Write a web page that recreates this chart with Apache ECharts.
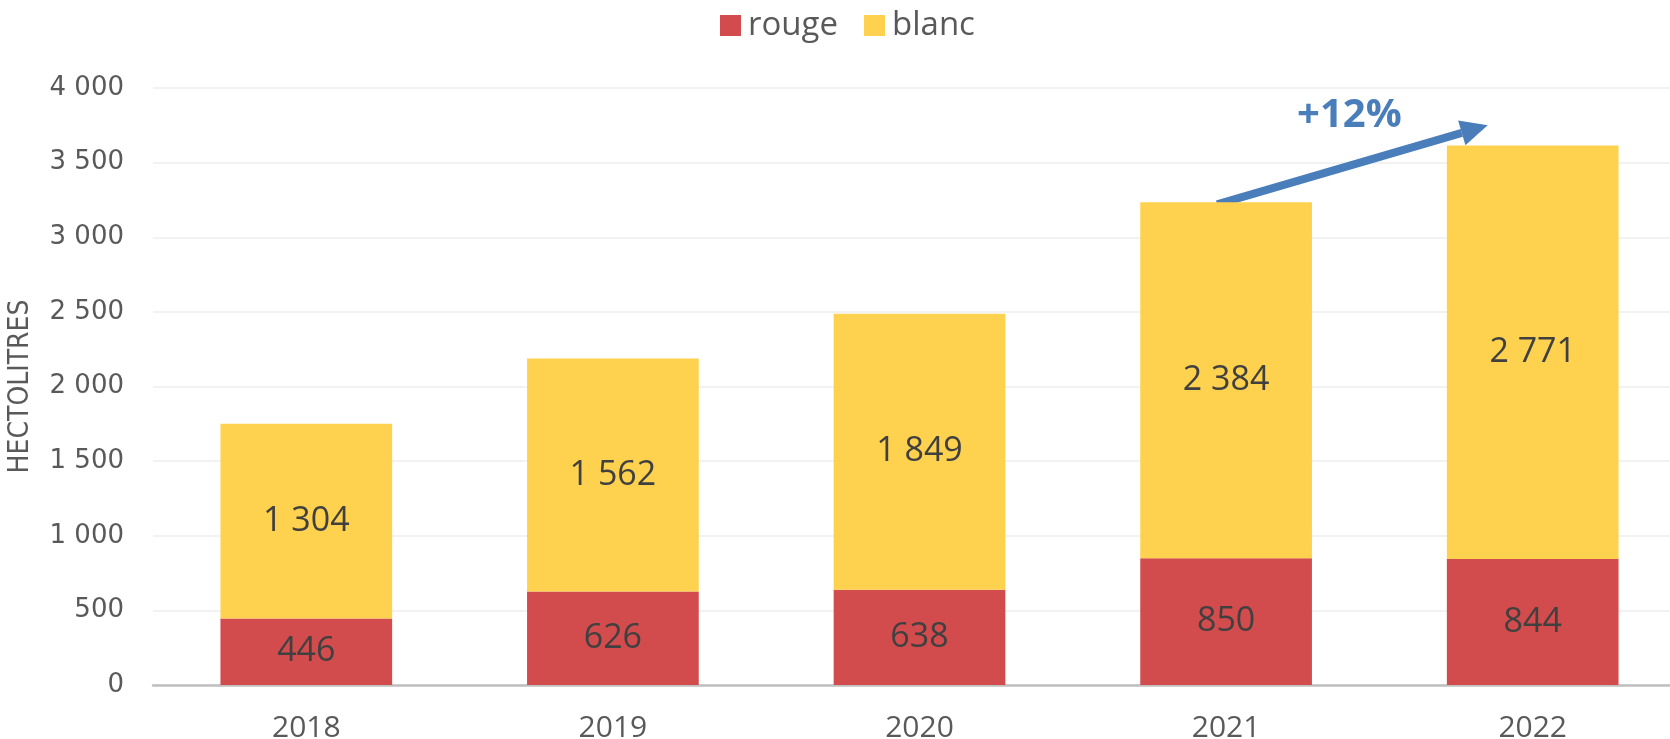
<!DOCTYPE html>
<html>
<head>
<meta charset="utf-8">
<script src="https://cdn.jsdelivr.net/npm/echarts@6/dist/echarts.min.js"></script>
<style>
  html, body { margin: 0; padding: 0; background: #fff; }
  #chart { width: 1670px; height: 739px; }
</style>
</head>
<body>
<div id="chart"></div>
<script>
const years = ['2018', '2019', '2020', '2021', '2022']
const rouge = [446, 626, 638, 850, 844]
const blanc = [1304, 1562, 1849, 2384, 2771]
const growthLabel = '+12%'

const fmt = (v) => String(v).replace(/\B(?=(\d{3})+(?!\d))/g, ' ')

const chart = echarts.init(document.getElementById('chart'))

const dataLabel = {
  show: true,
  position: 'inside',
  fontFamily: 'Open Sans',
  fontSize: 34,
  color: '#404040',
  formatter: (p) => fmt(p.value)
}

const option = {
  animation: false,
  legend: {
    left: 715,
    top: 4,
    itemWidth: 21,
    itemHeight: 21,
    itemGap: 26,
    icon: 'rect',
    textStyle: { fontFamily: 'Open Sans', fontSize: 33, color: '#595959', padding: [0, 0, 0, 2] },
    data: ['rouge', 'blanc']
  },
  grid: {
    left: 153,
    top: 88,
    width: 1533,
    bottom: 54,
    outerBoundsMode: 'none'
  },
  xAxis: {
    type: 'category',
    data: years,
    axisTick: { show: false },
    axisLine: { lineStyle: { color: '#BFBFBF', width: 2.5 } },
    axisLabel: { fontFamily: 'Open Sans', fontSize: 30, color: '#595959', margin: 28 }
  },
  yAxis: {
    type: 'value',
    min: 0,
    max: 4000,
    interval: 500,
    name: 'HECTOLITRES',
    nameLocation: 'middle',
    nameGap: 118,
    nameTextStyle: {
      fontFamily: "'Liberation Sans Narrow', 'DejaVu Sans Condensed', 'Roboto Condensed', sans-serif",
      fontSize: 28,
      color: '#595959'
    },
    axisLabel: { fontFamily: 'DejaVu Sans', fontSize: 26, color: '#595959', margin: 29, formatter: fmt },
    splitLine: { lineStyle: { color: '#EEEEEE', width: 1.5 } }
  },
  series: [
    {
      name: 'rouge',
      type: 'bar',
      stack: 'vol',
      barWidth: '56%',
      itemStyle: { color: '#D34C4D' },
      label: dataLabel,
      data: rouge
    },
    {
      name: 'blanc',
      type: 'bar',
      stack: 'vol',
      barWidth: '56%',
      itemStyle: { color: '#FED24E' },
      label: dataLabel,
      data: blanc
    }
  ]
}

chart.setOption(option)

// growth arrow between 2021 and 2022 totals
const p0 = chart.convertToPixel({ gridIndex: 0 }, ['2021', 3220])
const p1 = chart.convertToPixel({ gridIndex: 0 }, ['2022', 3750])
const x0 = p0[0] - 9, y0 = p0[1]
const x1 = p1[0] - 45, y1 = p1[1]
const ang = Math.atan2(y1 - y0, x1 - x0)
const headLen = 27, headW = 13
const bx = x1 - headLen * Math.cos(ang), by = y1 - headLen * Math.sin(ang)
const nx = -Math.sin(ang), ny = Math.cos(ang)

chart.setOption({
  graphic: [
    {
      type: 'line',
      shape: { x1: x0, y1: y0, x2: bx, y2: by },
      style: { stroke: '#4A7EBB', lineWidth: 8 }
    },
    {
      type: 'polygon',
      shape: { points: [[x1, y1], [bx + nx * headW, by + ny * headW], [bx - nx * headW, by - ny * headW]] },
      style: { fill: '#4A7EBB' }
    },
    {
      type: 'text',
      x: (x0 + x1) / 2 - 3,
      y: 116,
      style: {
        text: growthLabel,
        fontFamily: 'Open Sans',
        fontWeight: 'bold',
        fontSize: 40,
        fill: '#4A7EBB',
        align: 'center',
        verticalAlign: 'middle'
      }
    }
  ]
})
</script>
</body>
</html>
